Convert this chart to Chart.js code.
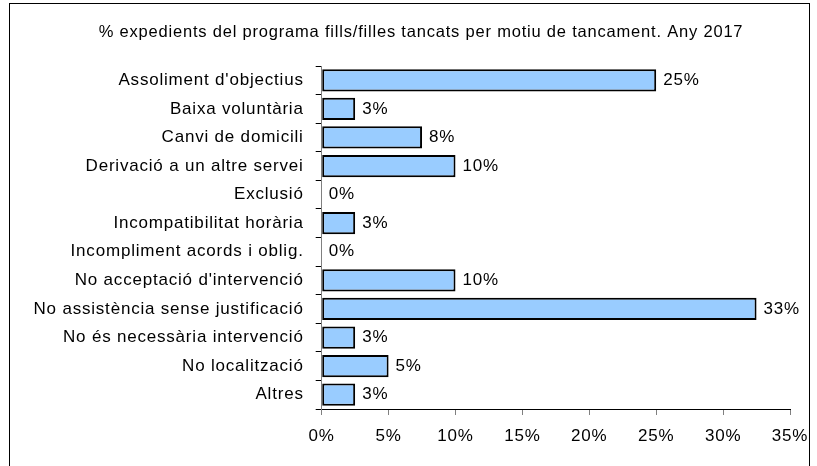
<!DOCTYPE html>
<html>
<head>
<meta charset="utf-8">
<script src="https://cdn.jsdelivr.net/npm/chart.js@4"></script>
<style>
body { margin: 0; background: #fff; }
#wrap { position: relative; width: 817px; height: 466px; overflow: hidden; }
#frame { position: absolute; left: 9px; top: 3px; width: 799px; height: 480px; border: 1px solid #000; }
canvas { position: absolute; left: 0; top: 0; }
</style>
</head>
<body>
<div id="wrap">
  <div id="frame"></div>
  <canvas id="chart" width="817" height="466"></canvas>
</div>
<script>
// DATA
const categories = [
    "Assoliment d'objectius",
    'Baixa voluntària',
    'Canvi de domicili',
    'Derivació a un altre servei',
    'Exclusió',
    'Incompatibilitat horària',
    'Incompliment acords i oblig.',
    "No acceptació d'intervenció",
    'No assistència sense justificació',
    'No és necessària intervenció',
    'No localització',
    'Altres'
];
const values = [25, 2.5, 7.5, 10, 0, 2.5, 0, 10, 32.5, 2.5, 5, 2.5];
const xTicks = [0, 5, 10, 15, 20, 25, 30, 35];
const titleText = '% expedients del programa fills/filles tancats per motiu de tancament. Any 2017';

const FONT = '"Liberation Sans", Arial, sans-serif';

// spaced-out lettering like the original
const spacing = {
    id: 'spacing',
    beforeLayout(chart) { chart.ctx.letterSpacing = '0.8px'; },
    beforeDraw(chart) { chart.ctx.letterSpacing = '0.8px'; }
};

// TITLE (centred on the frame, not the chart box)
const topTitle = {
    id: 'topTitle',
    afterDraw(chart) {
        const ctx = chart.ctx;
        ctx.save();
        ctx.font = '16.5px ' + FONT;
        ctx.fillStyle = '#000';
        ctx.textAlign = 'center';
        ctx.textBaseline = 'middle';
        ctx.fillText(titleText, 421, 32);
        ctx.restore();
    }
};

// VALUE LABELS
const barLabels = {
    id: 'barLabels',
    afterDatasetsDraw(chart) {
        const ctx = chart.ctx;
        const meta = chart.getDatasetMeta(0);
        ctx.save();
        ctx.font = '17px ' + FONT;
        ctx.fillStyle = '#000';
        ctx.textAlign = 'left';
        ctx.textBaseline = 'middle';
        meta.data.forEach((bar, i) => {
            ctx.fillText(Math.round(values[i]) + '%', bar.x + 7, bar.y);
        });
        ctx.restore();
    }
};

new Chart(document.getElementById('chart'), {
    type: 'bar',
    data: {
        labels: categories,
        datasets: [{
            data: values,
            backgroundColor: '#99CCFF',
            borderColor: '#000',
            borderWidth: 2,
            borderSkipped: false,
            categoryPercentage: 1,
            barPercentage: 0.78
        }]
    },
    options: {
        indexAxis: 'y',
        responsive: false,
        animation: false,
        layout: { padding: { left: 0, right: 27, top: 66, bottom: 0 } },
        plugins: {
            legend: { display: false },
            tooltip: { enabled: false },
            title: { display: false }
        },
        scales: {
            x: {
                min: 0,
                max: 35,
                afterBuildTicks: (s) => { s.ticks = xTicks.map(v => ({ value: v })); },
                afterFit: (s) => { s.height = 57; s.paddingRight = 0; s.paddingLeft = 0; },
                ticks: {
                    color: '#000',
                    font: { family: FONT, size: 17 },
                    padding: 11,
                    callback: (v) => v + '%'
                },
                grid: { drawOnChartArea: false, color: '#808080', tickLength: 6 },
                border: { color: '#000', width: 1 }
            },
            y: {
                afterFit: (s) => { s.width = 321.7; },
                ticks: {
                    color: '#000',
                    font: { family: FONT, size: 17 },
                    padding: 12
                },
                grid: { drawOnChartArea: false, offset: true, color: '#000', tickLength: 6 },
                border: { color: '#808080', width: 1 }
            }
        }
    },
    plugins: [spacing, barLabels, topTitle]
});
</script>
</body>
</html>
